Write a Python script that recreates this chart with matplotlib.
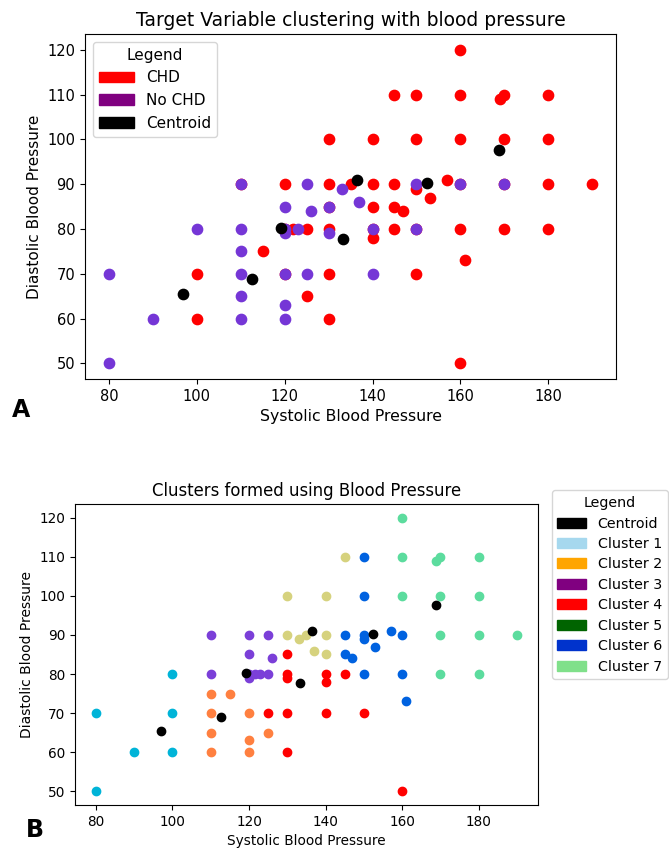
import numpy as np
import matplotlib.pyplot as plt
from matplotlib.patches import Patch

# =============================================================================
# DATA
# =============================================================================

# panel A: points by CHD status
chd_sys = [100, 100, 110, 115, 120, 120, 120, 122, 125, 125, 130, 130, 130, 130,
           130, 130, 135, 140, 140, 140, 140, 140, 145, 145, 145, 147, 145, 150,
           150, 150, 150, 150, 153, 157, 160, 160, 160, 160, 160, 161, 160, 169,
           170, 170, 170, 170, 180, 180, 180, 180, 190]
chd_dia = [70, 60, 90, 75, 90, 80, 70, 80, 80, 65, 100, 90, 85, 80,
           70, 60, 90, 100, 90, 85, 80, 78, 110, 90, 85, 84, 80, 110,
           100, 89, 80, 70, 87, 91, 120, 110, 100, 90, 80, 73, 50, 109,
           110, 100, 90, 80, 110, 100, 90, 80, 90]

nochd_sys = [80, 80, 90, 100, 110, 110, 110, 110, 110, 110, 120, 120, 120, 120,
             120, 120, 123, 125, 126, 125, 130, 130, 133, 137, 140, 140, 150,
             150, 160, 170]
nochd_dia = [70, 50, 60, 80, 90, 80, 75, 70, 65, 60, 85, 80, 79, 70,
             63, 60, 80, 90, 84, 70, 85, 79, 89, 86, 80, 70, 90,
             80, 90, 90]

# centroids (shared by both panels)
cen_sys = [96.9, 112.6, 119.1, 133.2, 136.5, 152.3, 168.9]
cen_dia = [65.4, 68.9, 80.3, 77.7, 90.9, 90.2, 97.6]

# panel B: k-means clusters
clusters = {
    'Cluster 1': ([80, 80, 90, 100, 100, 100],
                  [70, 50, 60, 80, 70, 60]),
    'Cluster 2': ([110, 110, 110, 110, 115, 120, 120, 120, 125],
                  [75, 70, 65, 60, 75, 70, 63, 60, 65]),
    'Cluster 3': ([110, 110, 120, 120, 120, 120, 121.5, 123, 125, 126, 125],
                  [90, 80, 90, 85, 80, 79, 80, 80, 90, 84, 80]),
    'Cluster 4': ([125, 130, 130, 130, 130, 130, 140, 140, 140, 145, 150, 160],
                  [70, 85, 80, 79, 70, 60, 80, 78, 70, 80, 70, 50]),
    'Cluster 5': ([130, 130, 133, 135, 137, 140, 140, 140, 145],
                  [100, 90, 89, 90, 86, 100, 90, 85, 110]),
    'Cluster 6': ([145, 145, 147, 150, 150, 150, 150, 150, 153, 157, 160, 160, 161],
                  [90, 85, 84, 110, 100, 90, 89, 80, 87, 91, 90, 80, 73]),
    'Cluster 7': ([160, 160, 160, 169, 170, 170, 170, 170, 180, 180, 180, 180, 190],
                  [120, 110, 100, 109, 110, 100, 90, 80, 110, 100, 90, 80, 90]),
}
# colours the points were drawn with
point_colors = ['#00b4d8', '#ff8040', '#7b3fd8', '#ff0000', '#d6d27e', '#0062e0', '#5cdc9e']
# colours shown in the legend
legend_colors = ['#a6d8ee', '#ffa500', '#800080', '#ff0000', '#006400', '#0033cc', '#80e08a']

xticks = [80, 100, 120, 140, 160, 180]
yticks = [50, 60, 70, 80, 90, 100, 110, 120]

# =============================================================================
# PLOTTING
# =============================================================================

fig = plt.figure(figsize=(6.69, 8.52), dpi=100)

# ---- panel A
ax1 = fig.add_axes([0.127, 0.555, 0.794, 0.405])
ax1.scatter(chd_sys, chd_dia, s=55, c='#ff0000')
ax1.scatter(nochd_sys, nochd_dia, s=55, c='#7536d6')
ax1.scatter(cen_sys, cen_dia, s=55, c='black')
ax1.set_xticks(xticks)
ax1.set_yticks(yticks)
ax1.tick_params(labelsize=10.5)
ax1.set_title('Target Variable clustering with blood pressure', fontsize=13.5)
ax1.set_xlabel('Systolic Blood Pressure', fontsize=11.3)
ax1.set_ylabel('Diastolic Blood Pressure', fontsize=11)
handles = [Patch(color='#ff0000', label='CHD'),
           Patch(color='#800080', label='No CHD'),
           Patch(color='black', label='Centroid')]
ax1.legend(handles=handles, title='Legend', loc='upper left', fontsize=11,
           title_fontsize=11, handlelength=2.3)

# ---- panel B
ax2 = fig.add_axes([0.112, 0.0552, 0.692, 0.3533])
for (name, (xs, ys)), col in zip(clusters.items(), point_colors):
    ax2.scatter(xs, ys, s=36, c=col)
ax2.scatter(cen_sys, cen_dia, s=36, c='black')
ax2.set_xticks(xticks)
ax2.set_yticks(yticks)
ax2.tick_params(labelsize=9.8)
ax2.set_title('Clusters formed using Blood Pressure', fontsize=11.9)
ax2.set_xlabel('Systolic Blood Pressure', fontsize=9.8)
ax2.set_ylabel('Diastolic Blood Pressure', fontsize=10)
handles = [Patch(color='black', label='Centroid')]
for name, col in zip(clusters.keys(), legend_colors):
    handles.append(Patch(color=col, label=name))
ax2.legend(handles=handles, title='Legend', loc='upper left',
           bbox_to_anchor=(1.03, 1.045), borderaxespad=0, fontsize=10.3,
           title_fontsize=10.3, labelspacing=0.45)

# panel letters
fig.text(0.032, 0.519, 'A', fontsize=17, fontweight='bold', ha='center', va='center')
fig.text(0.052, 0.026, 'B', fontsize=17, fontweight='bold', ha='center', va='center')

fig.savefig('out.png', dpi=100)
